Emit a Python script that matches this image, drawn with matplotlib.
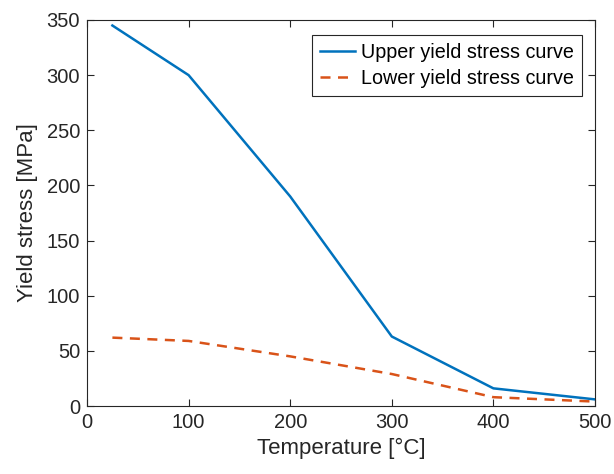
import matplotlib
matplotlib.use("Agg")
import matplotlib.pyplot as plt

plt.rcParams['font.family'] = ['Liberation Sans', 'DejaVu Sans']

temperature = [25, 100, 200, 300, 400, 500]
upper_yield = [345, 300, 190, 63, 16, 6]
lower_yield = [62, 59, 45, 29, 8, 4]

fig = plt.figure(figsize=(6.14, 4.74), dpi=100)
ax = fig.add_axes([87/614, 1-406/474, (595-87)/614, (406-20)/474])

ax.plot(temperature, upper_yield, '-', color='#0072BD', lw=1.8, label='Upper yield stress curve')
ax.plot(temperature, lower_yield, '--', color='#D95319', lw=1.8, dashes=(4, 3), label='Lower yield stress curve')

ax.set_xlim(0, 500)
ax.set_ylim(0, 350)
ax.set_xticks(range(0, 501, 100))
ax.set_yticks(range(0, 351, 50))
ax.tick_params(direction='in', top=True, right=True, labelsize=14.5, length=5, width=0.8,
               pad=5, colors='#262626', labelcolor='#262626')
for s in ax.spines.values():
    s.set_color('#262626')
    s.set_linewidth(0.8)

ax.set_xlabel('Temperature [°C]', fontsize=16, color='#262626', labelpad=4)
ax.set_ylabel('Yield stress [MPa]', fontsize=16, color='#262626', labelpad=6)

leg = ax.legend(loc='upper right', fontsize=14.2, fancybox=False, framealpha=1, edgecolor='#262626',
                borderpad=0.4, handlelength=1.8, handletextpad=0.3, labelspacing=0.35,
                borderaxespad=0, bbox_to_anchor=(0.974, 0.961))
leg.get_frame().set_linewidth(0.8)

fig.savefig('out.png', dpi=100)
